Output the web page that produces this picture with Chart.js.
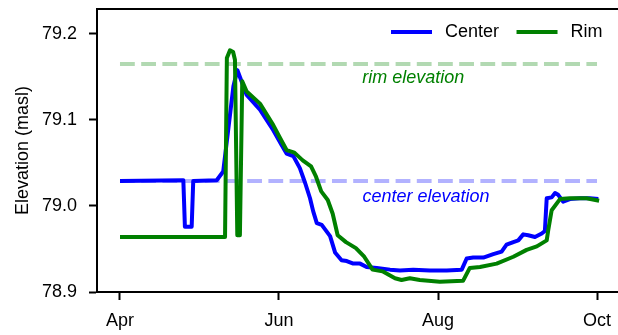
<!DOCTYPE html>
<html>
<head>
<meta charset="utf-8">
<script src="https://cdn.jsdelivr.net/npm/chart.js@4.4.0/dist/chart.umd.min.js"></script>
<style>
  html, body { margin: 0; padding: 0; background: #fff; }
  #wrap { width: 618px; height: 335px; }
</style>
</head>
<body>
<div id="wrap"><canvas id="myChart" width="618" height="335"></canvas></div>
<script>
// x = days since 1 April
const centerDays = [0, 24.3, 24.9, 27.5, 28.1, 37.1, 39.6, 43.5, 45.0, 48.6,
  53.7, 58.8, 62.0, 63.9, 66.5, 69.0, 71.0, 72.9, 74.1, 75.5,
  77.4, 80.6, 82.5, 85.0, 87.0, 89.5, 92.1, 94.6, 98.5, 103.6,
  107.4, 112.5, 118.9, 125.3, 131.1, 133.0, 135.5, 139.4, 143.2, 146.4,
  148.3, 150.9, 152.8, 154.7, 156.6, 159.2, 161.8, 163.0, 163.7, 165.6,
  166.9, 168.1, 170.0, 172.6, 176.4, 180.3, 183.5];
const centerLevels = [79.029, 79.030, 78.976, 78.976, 79.029, 79.030, 79.040, 79.139, 79.158, 79.129,
  79.112, 79.088, 79.071, 79.061, 79.058, 79.044, 79.027, 79.009, 78.994, 78.980,
  78.978, 78.965, 78.946, 78.937, 78.936, 78.933, 78.933, 78.929, 78.928, 78.926,
  78.925, 78.926, 78.925, 78.925, 78.926, 78.939, 78.940, 78.940, 78.944, 78.947,
  78.955, 78.958, 78.960, 78.967, 78.966, 78.964, 78.968, 78.971, 79.009, 79.010,
  79.015, 79.013, 79.005, 79.008, 79.009, 79.009, 79.008];

const rimDays = [0, 40.3, 41.0, 42.2, 43.4, 44.1, 45.0, 46.0, 46.9, 48.6,
  53.7, 58.8, 61.4, 63.9, 66.9, 70.1, 73.3, 75.2, 77.2, 79.7,
  81.6, 83.5, 86.7, 90.5, 93.7, 96.9, 100.7, 105.5, 108.0, 111.2,
  115.0, 122.7, 131.6, 134.2, 138.1, 144.5, 150.9, 156.0, 159.9, 163.7,
  164.3, 165.6, 168.8, 172.6, 179.0, 183.8];
const rimLevels = [78.964, 78.964, 79.172, 79.181, 79.179, 79.170, 78.966, 78.966, 79.145, 79.133,
  79.119, 79.094, 79.079, 79.065, 79.062, 79.053, 79.046, 79.034, 79.017, 79.007,
  78.991, 78.966, 78.958, 78.951, 78.941, 78.926, 78.924, 78.916, 78.914, 78.916,
  78.914, 78.912, 78.913, 78.928, 78.929, 78.933, 78.941, 78.949, 78.953, 78.960,
  78.972, 78.995, 79.008, 79.009, 79.009, 79.006];

const refDays = [0, 183];
const centerElevation = 79.029;
const rimElevation = 79.165;

const monthDays = [0, 61, 122, 183];
const monthLabels = ['Apr', 'Jun', 'Aug', 'Oct'];
const yTicks = [78.9, 79.0, 79.1, 79.2];

const toPoints = (xs, ys) => xs.map((d, i) => ({x: d, y: ys[i]}));

Chart.defaults.font.family = "'Liberation Sans', Arial, sans-serif";
Chart.defaults.font.size = 18;
Chart.defaults.color = '#000';

const extras = {
  id: 'extras',
  afterDatasetsDraw(chart) {
    const {ctx, chartArea: a, scales: {x, y}} = chart;
    ctx.save();
    // top spine, right one is cut off in the original
    ctx.strokeStyle = '#000';
    ctx.lineWidth = 2;
    ctx.beginPath();
    ctx.moveTo(a.left - 1, a.top);
    ctx.lineTo(a.right, a.top);
    ctx.stroke();

    // labels under the reference lines
    ctx.font = "italic 18px 'Liberation Sans', Arial, sans-serif";
    ctx.textAlign = 'center';
    ctx.textBaseline = 'middle';
    ctx.fillStyle = 'green';
    ctx.fillText('rim elevation', x.getPixelForValue(112.5), y.getPixelForValue(rimElevation) + 14);
    ctx.fillStyle = 'blue';
    ctx.fillText('center elevation', x.getPixelForValue(117.4), y.getPixelForValue(centerElevation) + 16);

    // legend, top right
    ctx.font = "18px 'Liberation Sans', Arial, sans-serif";
    ctx.textAlign = 'left';
    ctx.fillStyle = '#000';
    let lx = 391;
    const ly = 32;
    chart.data.datasets.slice(0, 2).forEach(ds => {
      ctx.strokeStyle = ds.borderColor;
      ctx.lineWidth = 4;
      ctx.beginPath();
      ctx.moveTo(lx, ly);
      ctx.lineTo(lx + 41, ly);
      ctx.stroke();
      ctx.fillText(ds.label, lx + 54, ly);
      lx += 54 + ctx.measureText(ds.label).width + 17.5;
    });
    ctx.restore();
  }
};

new Chart(document.getElementById('myChart'), {
  type: 'line',
  data: {
    datasets: [
      {
        label: 'Center',
        data: toPoints(centerDays, centerLevels),
        borderColor: 'blue',
        backgroundColor: 'blue',
        borderWidth: 4,
        pointRadius: 0,
        borderJoinStyle: 'round',
        order: 1
      },
      {
        label: 'Rim',
        data: toPoints(rimDays, rimLevels),
        borderColor: 'green',
        backgroundColor: 'green',
        borderWidth: 4,
        pointRadius: 0,
        borderJoinStyle: 'round',
        order: 0
      },
      {
        label: 'center elevation',
        data: toPoints(refDays, refDays.map(() => centerElevation)),
        borderColor: 'rgba(0,0,255,0.3)',
        borderWidth: 4,
        borderDash: [14.8, 6.4],
        pointRadius: 0,
        order: 2
      },
      {
        label: 'rim elevation',
        data: toPoints(refDays, refDays.map(() => rimElevation)),
        borderColor: 'rgba(0,128,0,0.3)',
        borderWidth: 4,
        borderDash: [14.8, 6.4],
        pointRadius: 0,
        order: 3
      }
    ]
  },
  options: {
    responsive: false,
    animation: false,
    layout: {padding: {top: 9, right: 0, left: 0, bottom: 0}},
    plugins: {legend: {display: false}, tooltip: {enabled: false}},
    scales: {
      x: {
        type: 'linear',
        min: -8.82,
        max: 191.05,
        afterBuildTicks: s => { s.ticks = monthDays.map(v => ({value: v})); },
        afterFit: s => { s.height = 43; s.paddingLeft = 0; s.paddingRight = 0; },
        ticks: {
          autoSkip: false,
          maxRotation: 0,
          padding: 10,
          callback: v => monthLabels[monthDays.indexOf(v)]
        },
        grid: {drawOnChartArea: false, tickLength: 8, tickWidth: 2, tickColor: '#000'},
        border: {color: '#000', width: 2}
      },
      y: {
        min: 78.9,
        max: 79.229,
        afterBuildTicks: s => { s.ticks = yTicks.map(v => ({value: v})); },
        afterFit: s => { s.width = 97; s.paddingTop = 0; s.paddingBottom = 0; },
        ticks: {padding: 12, callback: v => v.toFixed(1)},
        grid: {drawOnChartArea: false, tickLength: 8, tickWidth: 2, tickColor: '#000'},
        border: {color: '#000', width: 2},
        title: {display: true, text: 'Elevation (masl)', padding: {top: 12, bottom: 0}}
      }
    }
  },
  plugins: [extras]
});
</script>
</body>
</html>
